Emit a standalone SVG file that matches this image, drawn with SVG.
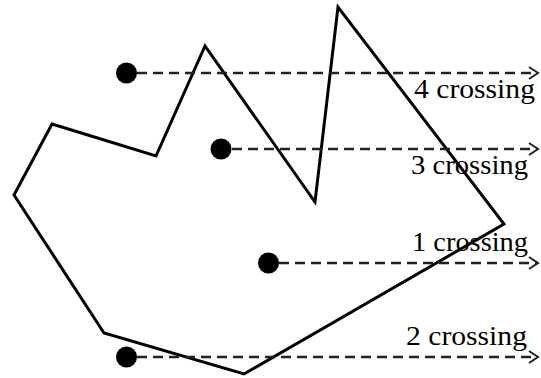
<svg xmlns="http://www.w3.org/2000/svg" width="541" height="378" viewBox="0 0 541 378">
<defs>
<marker id="arr" markerWidth="12" markerHeight="14" refX="10" refY="7" orient="auto" markerUnits="userSpaceOnUse">
<path d="M1,1 L10,7 L1,13" fill="none" stroke="#222" stroke-width="2"/>
</marker>
</defs>
<style>
.poly{fill:none;stroke:#000;stroke-width:3;stroke-linejoin:miter}
.ray{stroke:#222;stroke-width:2.4;stroke-dasharray:10 6;fill:none;marker-end:url(#arr)}
.pt{fill:#000}
.lbl{font-family:"Liberation Serif","Times New Roman",serif;font-size:27px;fill:#000;text-anchor:end}
</style>
<rect width="541" height="378" fill="#fff"/>
<g id="polygon">
<polygon class="poly" points="52,124 156,156 205,46 315,202 338,7 504,224 244,374 104,333 14,195"/>
</g>
<g id="connectors">
<line class="ray" x1="137" y1="73" x2="538" y2="73"/>
<line class="ray" x1="232" y1="149" x2="538" y2="149"/>
<line class="ray" x1="279" y1="263" x2="538" y2="263"/>
<line class="ray" x1="137" y1="357" x2="538" y2="357"/>
</g>
<g id="point4"><circle class="pt" cx="126.5" cy="73" r="10.5"/><text class="lbl" x="535" y="98" textLength="121" lengthAdjust="spacingAndGlyphs">4 crossing</text></g>
<g id="point3"><circle class="pt" cx="221" cy="149" r="10.5"/><text class="lbl" x="528" y="174" textLength="117" lengthAdjust="spacingAndGlyphs">3 crossing</text></g>
<g id="point1"><circle class="pt" cx="268.5" cy="263" r="10.5"/><text class="lbl" x="528" y="251" textLength="116" lengthAdjust="spacingAndGlyphs">1 crossing</text></g>
<g id="point2"><circle class="pt" cx="126.5" cy="357" r="10.5"/><text class="lbl" x="527" y="345" textLength="121" lengthAdjust="spacingAndGlyphs">2 crossing</text></g>
</svg>
